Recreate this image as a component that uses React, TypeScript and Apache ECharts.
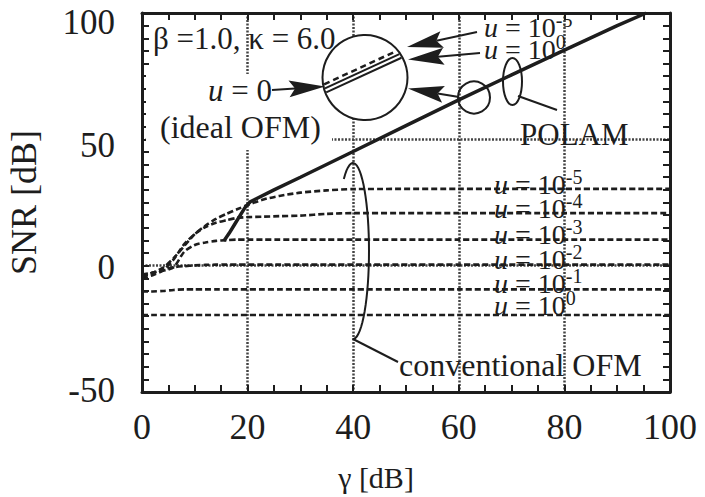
import React, { useEffect, useRef } from 'react';
import * as echarts from 'echarts';

// ---- data ----
const gammaConv = [0, 2, 4, 6, 8, 10, 12, 14, 16, 18, 20, 23, 26, 30, 35, 40, 60, 80, 100];
const snrConvU5 = [-4.2, -2.8, -0.8, 3, 7.8, 12.5, 15.8, 18.5, 20.5, 22.3, 24, 26.2, 27.6, 28.9, 29.8, 30.3, 30.4, 30.4, 30.4];
const snrConvU4 = [-5, -3.8, -1.8, 2.5, 8.5, 12.5, 15.3, 17, 18, 18.9, 19.2, 19.4, 19.6, 19.8, 20.5, 20.8, 20.8, 20.8, 20.8];
const snrConvU3 = [-3.5, -2.8, -2, -0.6, 5.5, 8.2, 9.2, 9.8, 10.1, 10.3, 10.3, 10.3, 10.3, 10.3, 10.3, 10.3, 10.3, 10.3, 10.3];
const snrConvU2 = [-4.5, -2.8, -1.5, -0.6, -0.2, 0.1, 0.3, 0.4, 0.4, 0.4, 0.4, 0.4, 0.4, 0.4, 0.4, 0.4, 0.4, 0.4, 0.4];
const snrConvU1 = [-10.2, -10.2, -10, -9.6, -9.4, -9.4, -9.4, -9.4, -9.4, -9.4, -9.4, -9.4, -9.4, -9.4, -9.4, -9.4, -9.4, -9.4, -9.4];
const snrConvU0 = [-19.5, -19.5, -19.5, -19.5, -19.5, -19.5, -19.5, -19.5, -19.5, -19.5, -19.5, -19.5, -19.5, -19.5, -19.5, -19.5, -19.5, -19.5, -19.5];

const gammaPolam = [15.5, 16.5, 17.5, 18.5, 19.5, 20.5, 25, 30, 40, 50, 60, 70, 80, 90, 95.5];
const snrPolam = [9.8, 12.8, 16.2, 19.6, 23, 25.3, 30, 35, 45.2, 55.4, 65.6, 75.5, 85.3, 95, 100];

const convLabels = ['-5', '-4', '-3', '-2', '-1', '0'];

const FONT = 'Liberation Serif';
const INK = '#1d1d1d';

const zip = (xs: number[], ys: number[]) => xs.map((x, i) => [x, ys[i]]);

function arrow(x1: number, y1: number, x2: number, y2: number, len = 36, hw = 8.5, notch = 6): any[] {
  const dx = x2 - x1, dy = y2 - y1, L = Math.hypot(dx, dy);
  const ux = dx / L, uy = dy / L, px = -uy, py = ux;
  const bx = x2 - ux * len, by = y2 - uy * len;
  const nx = x2 - ux * (len - notch), ny = y2 - uy * (len - notch);
  return [
    { type: 'line', z: 20, shape: { x1, y1, x2: nx, y2: ny }, style: { stroke: INK, lineWidth: 2 } },
    {
      type: 'polygon', z: 20,
      shape: { points: [[x2, y2], [bx + px * hw, by + py * hw], [nx, ny], [bx - px * hw, by - py * hw]] },
      style: { fill: INK },
    },
  ];
}

function chord(cx: number, cy: number, r: number, m: number, d: number) {
  const a = 1 + m * m, b = 2 * m * d, c = d * d - r * r;
  const disc = Math.sqrt(b * b - 4 * a * c);
  const t1 = (-b - disc) / (2 * a), t2 = (-b + disc) / (2 * a);
  return { x1: cx + t1, y1: cy + d + m * t1, x2: cx + t2, y2: cy + d + m * t2 };
}

function txt(x: number, y: number, text: string, size = 30, align = 'left'): any {
  return {
    type: 'text', x, y, z: 30,
    style: {
      text, fill: INK, fontSize: size, fontFamily: FONT, lineHeight: Math.round(size * 1.25),
      textAlign: align, textVerticalAlign: 'middle', align, verticalAlign: 'middle',
      rich: {
        n: { fontSize: size, fontFamily: FONT, fill: INK, lineHeight: Math.round(size * 1.25) },
        i: { fontStyle: 'italic', fontSize: size, fontFamily: FONT, fill: INK, lineHeight: Math.round(size * 1.25) },
        s: { fontSize: Math.round(size * 0.72), fontFamily: FONT, verticalAlign: 'top', fill: INK, lineHeight: Math.round(size * 0.72) },
      },
    },
  };
}

function ellipseArc(cx: number, cy: number, rx: number, ry: number, a0: number, a1: number, n = 40) {
  const pts: number[][] = [];
  for (let k = 0; k <= n; k++) {
    const t = ((a0 + (a1 - a0) * (k / n)) * Math.PI) / 180;
    pts.push([cx + rx * Math.cos(t), cy + ry * Math.sin(t)]);
  }
  return pts;
}

const yLabelRich = {
  a: { fontFamily: FONT, fontSize: 35, color: INK, padding: [18, 0, 0, 0] },
  b: { fontFamily: FONT, fontSize: 35, color: INK, padding: [12, 0, 0, 0] },
  c: { fontFamily: FONT, fontSize: 35, color: INK, padding: [4, 0, 0, 0] },
  d: { fontFamily: FONT, fontSize: 35, color: INK, padding: [0, 0, 4, 0] },
};

export default function App() {
  const ref = useRef<HTMLDivElement>(null);
  useEffect(() => {
    const chart = echarts.init(ref.current!, null, { renderer: 'svg' });

    const convSets = [snrConvU5, snrConvU4, snrConvU3, snrConvU2, snrConvU1, snrConvU0];
    const convSeries = convSets.map((ys, i) => ({
      name: `conventional u=10^${convLabels[i]}`,
      type: 'line',
      data: zip(gammaConv, ys),
      showSymbol: false,
      smooth: 0.25,
      z: 3,
      lineStyle: { color: INK, width: 2.6, type: [6, 3] },
    }));

    const cx = 365, cy = 77.5, R = 42.5, m = -0.46;
    const cd = chord(cx, cy, R - 1, m, -12);
    const c1 = chord(cx, cy, R - 1, m, -7.5);
    const c2 = chord(cx, cy, R - 1, m, -3);

    const axisCommon = {
      type: 'value',
      axisLine: { show: true, onZero: false, lineStyle: { color: INK, width: 3 } },
      axisTick: { show: true, inside: true, length: 7, lineStyle: { color: INK, width: 2 } },
      minorTick: { show: true, length: 7, lineStyle: { color: INK, width: 2 } },
      minorSplitLine: { show: false },
    };

    const option: any = {
      animation: false,
      backgroundColor: '#ffffff',
      textStyle: { fontFamily: FONT },
      grid: { left: 142, top: 13, right: 35, bottom: 105, containLabel: false, outerBoundsMode: 'none' },
      xAxis: [
        {
          ...axisCommon, position: 'bottom', min: 0, max: 100, interval: 20,
          minorTick: { ...axisCommon.minorTick, splitNumber: 4 },
          axisLabel: { fontFamily: FONT, fontSize: 36, color: INK, margin: 17 },
          splitLine: { show: true, lineStyle: { color: '#444', width: 2.5, type: [2, 1.5] } },
          name: 'γ [dB]', nameLocation: 'middle', nameGap: 70,
          nameTextStyle: { fontFamily: FONT, fontSize: 30, color: INK, padding: [0, 60, 0, 0] },
        },
        {
          ...axisCommon, position: 'top', min: 0, max: 100, interval: 20,
          minorTick: { ...axisCommon.minorTick, splitNumber: 4 },
          axisLabel: { show: false }, splitLine: { show: false },
        },
      ],
      yAxis: [
        {
          ...axisCommon, position: 'left', min: -50, max: 100, interval: 50,
          minorTick: { ...axisCommon.minorTick, splitNumber: 10 },
          axisLabel: {
            fontFamily: FONT, fontSize: 35, color: INK, margin: 27,
            formatter: (v: number) => (v === 100 ? `{a|${v}}` : v === 50 ? `{b|${v}}` : v === 0 ? `{c|${v}}` : `{d|${v}}`),
            rich: yLabelRich,
          },
          splitLine: { show: true, lineStyle: { color: '#444', width: 2.5, type: [2, 1.5] } },
          name: 'SNR [dB]', nameLocation: 'middle', nameGap: 100, nameRotate: 90,
          nameTextStyle: { fontFamily: FONT, fontSize: 36, color: INK },
        },
        {
          ...axisCommon, position: 'right', min: -50, max: 100, interval: 50,
          minorTick: { ...axisCommon.minorTick, splitNumber: 10 },
          axisLabel: { show: false }, splitLine: { show: false },
        },
      ],
      series: [
        ...convSeries,
        {
          name: 'POLAM',
          type: 'line',
          data: zip(gammaPolam, snrPolam),
          showSymbol: false,
          z: 4,
          lineStyle: { color: INK, width: 3.5 },
        },
      ],
      graphic: [
        // white patch behind the "u = 0 (ideal OFM)" annotation
        { type: 'rect', z: 1, shape: { x: 146, y: 74, width: 186, height: 76 }, style: { fill: '#fff' } },
        // magnified inset circle
        { type: 'circle', z: 10, shape: { cx, cy, r: R }, style: { fill: '#fff', stroke: INK, lineWidth: 2 } },
        { type: 'line', z: 11, shape: cd, style: { stroke: INK, lineWidth: 2.5, lineDash: [6, 4] } },
        { type: 'line', z: 11, shape: c1, style: { stroke: INK, lineWidth: 2 } },
        { type: 'line', z: 11, shape: c2, style: { stroke: INK, lineWidth: 2 } },
        // small circle & ellipse on POLAM line
        { type: 'circle', z: 10, shape: { cx: 474, cy: 97.5, r: 16 }, style: { fill: 'none', stroke: INK, lineWidth: 2 } },
        { type: 'ellipse', z: 10, shape: { cx: 512.5, cy: 81.5, rx: 9.5, ry: 23.5 }, style: { fill: 'none', stroke: INK, lineWidth: 2 } },
        { type: 'line', z: 10, shape: { x1: 518, y1: 96, x2: 557, y2: 110 }, style: { stroke: INK, lineWidth: 2 } },
        // conventional OFM bracket
        { type: 'polyline', z: 10, shape: { points: ellipseArc(353, 251, 16, 88, -125, 92) }, style: { fill: 'none', stroke: INK, lineWidth: 2 } },
        { type: 'line', z: 10, shape: { x1: 353, y1: 339, x2: 398, y2: 362 }, style: { stroke: INK, lineWidth: 2 } },
        // arrows
        ...arrow(272, 90, 325, 86.5),
        ...arrow(477, 32, 407, 47),
        ...arrow(480, 53, 408, 59.5),
        ...arrow(459, 97, 408, 88.5),
        // texts
        txt(153, 38, '{n|β =1.0, κ = 6.0}', 31),
        txt(208, 90, '{i|u}{n| = 0}', 31),
        txt(160, 127, '{n|(ideal OFM)}', 32),
        txt(484, 27, '{i|u}{n| = 10}{s|-5}', 28),
        txt(484, 49, '{i|u}{n| = 10}{s|0}', 28),
        txt(520, 134, '{n|POLAM}', 31),
        txt(494, 184, '{i|u}{n| = 10}{s|-5}', 28),
        txt(494, 208, '{i|u}{n| = 10}{s|-4}', 28),
        txt(494, 234, '{i|u}{n| = 10}{s|-3}', 28),
        txt(494, 259, '{i|u}{n| = 10}{s|-2}', 28),
        txt(494, 283, '{i|u}{n| = 10}{s|-1}', 28),
        txt(494, 305, '{i|u}{n| = 10}{s|0}', 28),
        txt(399, 365, '{n|conventional OFM}', 32),
      ],
    };

    chart.setOption(option);
    return () => chart.dispose();
  }, []);
  return (
    <div
      ref={ref}
      style={{ position: 'fixed', left: 0, top: 0, width: 705, height: 497, background: '#fff' }}
    />
  );
}
